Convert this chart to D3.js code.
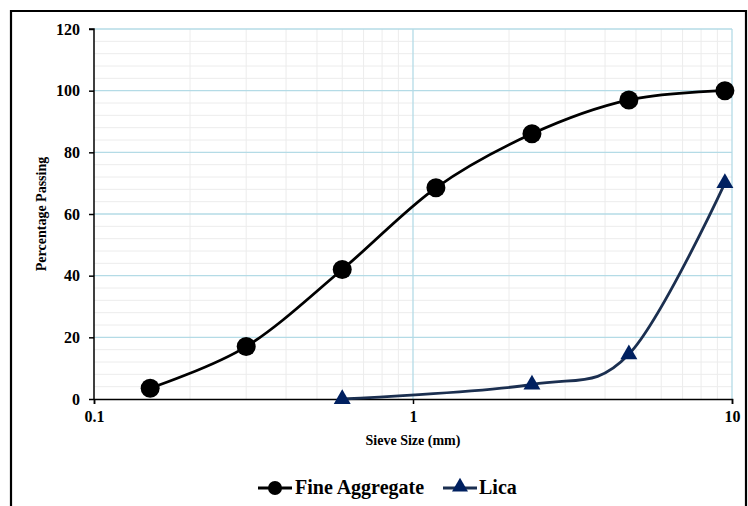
<!DOCTYPE html>
<html>
<head>
<meta charset="utf-8">
<script src="https://cdn.jsdelivr.net/npm/d3@7"></script>
<style>
  html, body { margin: 0; padding: 0; background: #fff; }
  svg { display: block; }
  text { font-family: "Liberation Serif", "Times New Roman", serif; font-weight: bold; fill: #000; }
</style>
</head>
<body>
<svg id="chart" width="748" height="506"></svg>
<script>
// Sieve analysis data
const fineSizes = [0.15, 0.3, 0.6, 1.18, 2.36, 4.75, 9.5];
const finePassing = [3.5, 17, 42, 68.5, 86, 97, 100];
const licaSizes = [0.6, 2.36, 4.75, 9.5];
const licaPassing = [0, 4.7, 14.5, 70];
const xTicks = [0.1, 1, 10];
const yTicks = [0, 20, 40, 60, 80, 100, 120];
const seriesNames = ["Fine Aggregate", "Lica"];

const svg = d3.select("#chart");
const W = 748, H = 506;
const plot = { left: 94, right: 732, top: 29, bottom: 399 };

// outer frame
svg.append("path")
  .attr("d", `M11,${H} L11,11 L746,11 L746,${H}`)
  .attr("fill", "none").attr("stroke", "#000").attr("stroke-width", 2.2);

const x = d3.scaleLog().domain([0.1, 10]).range([plot.left, plot.right]);
const y = d3.scaleLinear().domain([0, 120]).range([plot.bottom, plot.top]);

// minor grid
const g = svg.append("g");
const minorY = d3.range(4, 120, 4).filter(v => v % 20 !== 0);
g.selectAll(".my").data(minorY).enter().append("line")
  .attr("x1", plot.left).attr("x2", plot.right)
  .attr("y1", d => y(d)).attr("y2", d => y(d))
  .attr("stroke", "#ececec").attr("stroke-width", 1);
const minorX = [];
[0.1, 1].forEach(b => { for (let k = 2; k <= 9; k++) minorX.push(b * k); });
g.selectAll(".mx").data(minorX).enter().append("line")
  .attr("x1", d => x(d)).attr("x2", d => x(d))
  .attr("y1", plot.top).attr("y2", plot.bottom)
  .attr("stroke", "#ececec").attr("stroke-width", 1);

// major grid
g.selectAll(".gy").data(yTicks.filter(v => v > 0)).enter().append("line")
  .attr("x1", plot.left).attr("x2", plot.right)
  .attr("y1", d => y(d)).attr("y2", d => y(d))
  .attr("stroke", "#b4dbe6").attr("stroke-width", 1.3);
g.selectAll(".gx").data(xTicks.filter(v => v > 0.1)).enter().append("line")
  .attr("x1", d => x(d)).attr("x2", d => x(d))
  .attr("y1", plot.top).attr("y2", plot.bottom)
  .attr("stroke", "#b4dbe6").attr("stroke-width", 1.3);

// axes
const yAxis = svg.append("g").attr("transform", `translate(${plot.left},0)`)
  .call(d3.axisLeft(y).tickValues(yTicks).tickSize(5).tickPadding(9));
const xAxis = svg.append("g").attr("transform", `translate(0,${plot.bottom})`)
  .call(d3.axisBottom(x).tickValues(xTicks).tickFormat(d3.format("")).tickSize(5).tickPadding(7));
[yAxis, xAxis].forEach(a => {
  a.select(".domain").attr("stroke", "#000").attr("stroke-width", 1.5);
  a.selectAll(".tick line").attr("stroke", "#000").attr("stroke-width", 1.5);
  a.selectAll(".tick text").style("font-size", "16px").attr("fill", "#000")
    .style("font-family", '"Liberation Serif", serif').style("font-weight", "bold");
});
yAxis.select(".domain").attr("d", `M-5,${plot.top}H0V${plot.bottom}`);

// axis titles
svg.append("text").attr("x", (plot.left + plot.right) / 2).attr("y", 445)
  .attr("text-anchor", "middle").style("font-size", "14px").text("Sieve Size (mm)");
svg.append("text").attr("transform", `translate(46,${(plot.top + plot.bottom) / 2}) rotate(-90)`)
  .attr("text-anchor", "middle").style("font-size", "14px").text("Percentage Passing");

// series
const fine = fineSizes.map((s, i) => [s, finePassing[i]]);
const lica = licaSizes.map((s, i) => [s, licaPassing[i]]);
const line = d3.line().x(d => x(d[0])).y(d => y(d[1])).curve(d3.curveCardinal.tension(0));

const triangle = d3.symbol().type(d3.symbolTriangle).size(125);

svg.append("path").datum(lica).attr("d", line)
  .attr("fill", "none").attr("stroke", "#1b2f50").attr("stroke-width", 2.8);
svg.append("path").datum(fine).attr("d", line)
  .attr("fill", "none").attr("stroke", "#000").attr("stroke-width", 2.8);

svg.selectAll(".lm").data(lica).enter().append("path")
  .attr("d", triangle)
  .attr("transform", d => `translate(${x(d[0])},${y(d[1])})`)
  .attr("fill", "#002060");
svg.selectAll(".fm").data(fine).enter().append("circle")
  .attr("cx", d => x(d[0])).attr("cy", d => y(d[1])).attr("r", 9.5)
  .attr("fill", "#000");

// legend
const ly = 488;
const leg = svg.append("g");
leg.append("line").attr("x1", 258).attr("x2", 292).attr("y1", ly).attr("y2", ly)
  .attr("stroke", "#000").attr("stroke-width", 2.8);
leg.append("circle").attr("cx", 275).attr("cy", ly).attr("r", 7).attr("fill", "#000");
leg.append("text").attr("x", 295).attr("y", ly + 6).style("font-size", "20px").text(seriesNames[0]);
leg.append("line").attr("x1", 443).attr("x2", 477).attr("y1", ly).attr("y2", ly)
  .attr("stroke", "#1b2f50").attr("stroke-width", 2.8);
leg.append("path").attr("d", d3.symbol().type(d3.symbolTriangle).size(110))
  .attr("transform", `translate(460,${ly - 1})`).attr("fill", "#002060");
leg.append("text").attr("x", 479).attr("y", ly + 6).style("font-size", "20px").text(seriesNames[1]);
</script>
</body>
</html>
